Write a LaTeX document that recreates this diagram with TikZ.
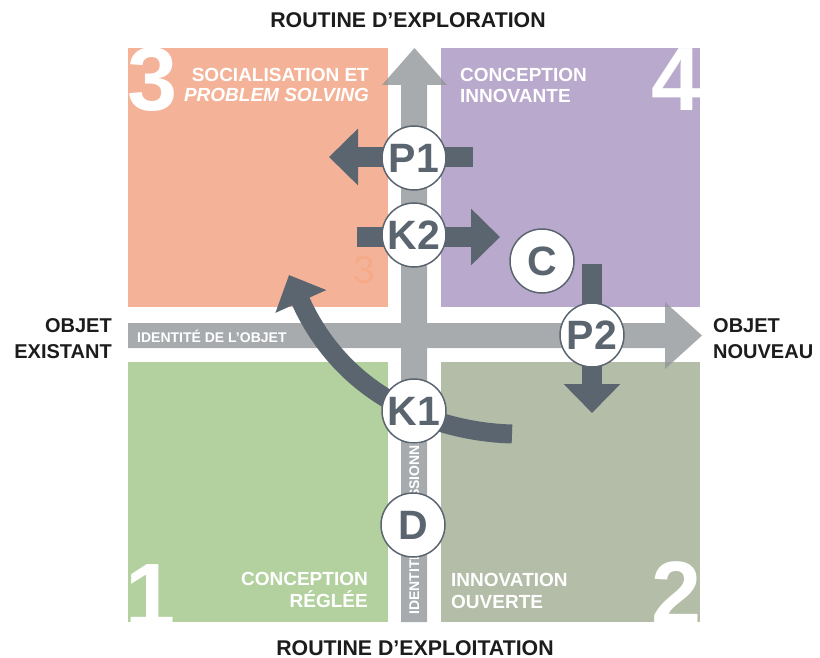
\documentclass[tikz,border=0pt]{standalone}
\usepackage{fontspec}
\setmainfont{Liberation Sans}
\usetikzlibrary{arrows.meta}
\definecolor{qthree}{HTML}{F4B398}
\definecolor{qfour}{HTML}{B9A9CD}
\definecolor{qone}{HTML}{B3D19E}
\definecolor{qtwo}{HTML}{B4BDA8}
\definecolor{axisgrey}{HTML}{8F9497}
\definecolor{slate}{HTML}{5A6570}
\definecolor{ink}{HTML}{1C1C1C}
\definecolor{faint}{HTML}{F6AA87}
\begin{document}
\begin{tikzpicture}[x=1pt,y=-1pt,
  lbl/.style={font=\fontsize{19}{20}\selectfont\bfseries, text=white, inner sep=0},
  lblit/.style={font=\fontsize{19}{20}\selectfont\bfseries\itshape, text=white, inner sep=0},
  axislbl/.style={font=\fontsize{20}{24}\selectfont\bfseries, text=ink, inner sep=0},
  toplbl/.style={font=\fontsize{21.3}{24}\selectfont\bfseries, text=ink, inner sep=0},
  barlbl/.style={font=\fontsize{14}{16}\selectfont\bfseries, text=white, inner sep=0},
  bignum/.style={font=\fontsize{90}{90}\selectfont\bfseries, text=white, inner sep=0},
  stage/.style={circle, draw=slate, line width=1.5pt, fill=white, minimum size=64pt,
    inner sep=0, font=\fontsize{41}{42}\selectfont\bfseries, text=slate},
  flow/.style={draw=slate, line width=20pt, -{Triangle[width=55pt,length=29pt]}}
]
\useasboundingbox (0,0) rectangle (820,658);

% quadrants with clipped big numbers
\begin{scope}
  \clip (128,48) rectangle (388,307);
  \fill[qthree] (128,48) rectangle (388,307);
  \node[bignum, anchor=base west] (n3) at (127,111) {3};
  \node[font=\fontsize{39}{40}\selectfont, text=faint, inner sep=0, anchor=base west] (s3) at (353,283) {3};
\end{scope}
\begin{scope}
  \clip (441,48) rectangle (700,307);
  \fill[qfour] (441,48) rectangle (700,307);
  \node[bignum, anchor=base east] (n4) at (702,111) {4};
\end{scope}
\begin{scope}
  \clip (128,362) rectangle (388,622);
  \fill[qone] (128,362) rectangle (388,622);
  \node[bignum, anchor=base west] (n1) at (125,626) {1};
\end{scope}
\begin{scope}
  \clip (441,362) rectangle (700,622);
  \fill[qtwo] (441,362) rectangle (700,622);
  \node[bignum, anchor=base east] (n2) at (702,624) {2};
\end{scope}

% grey axis arrows (one path, painted once)
\fill[axisgrey, fill opacity=0.78]
  (401,622) -- (401,85) -- (382,85) -- (414.5,48) -- (447,85) -- (427,85) -- (427,622) -- cycle
  (128,323) -- (665,323) -- (665,302) -- (702,335.5) -- (665,369) -- (665,348) -- (128,348) -- cycle;

\node[barlbl, anchor=base west] (idobj) at (137,342) {IDENTITÉ DE L’OBJET};
\node[barlbl, anchor=base west, rotate=90] (idpro) at (419,615) {IDENTITÉ PROFESSIONNELLE};

% quadrant labels
\node[lbl, anchor=base east] (l3a) at (369,82) {SOCIALISATION ET};
\node[lblit, anchor=base east] (l3b) at (369,102) {PROBLEM SOLVING};
\node[lbl, anchor=base west] (l4a) at (460,82) {CONCEPTION};
\node[lbl, anchor=base west] (l4b) at (460,103) {INNOVANTE};
\node[lbl, anchor=base east] (l1a) at (368,585) {CONCEPTION};
\node[lbl, anchor=base east] (l1b) at (368,607) {RÉGLÉE};
\node[lbl, anchor=base west] (l2a) at (451,586) {INNOVATION};
\node[lbl, anchor=base west] (l2b) at (451,608) {OUVERTE};

% axis labels
\node[toplbl, anchor=base] (top) at (408,28) {ROUTINE D’EXPLORATION};
\node[toplbl, anchor=base] (bot) at (415,655) {ROUTINE D’EXPLOITATION};
\node[axislbl, anchor=base east] (oe1) at (112,332) {OBJET};
\node[axislbl, anchor=base east] (oe2) at (112,358) {EXISTANT};
\node[axislbl, anchor=base west] (on1) at (713,332) {OBJET};
\node[axislbl, anchor=base west] (on2) at (713,358) {NOUVEAU};

% flow arrows
\coordinate (p1s) at (473,157);
\coordinate (p1t) at (329,157);
\coordinate (k2s) at (357,237);
\coordinate (k2t) at (500,237);
\coordinate (cs) at (592,264);
\coordinate (ct) at (592,413);
\coordinate (k1s) at (512,434);
\coordinate (k1t) at (289,275);
\draw[flow] (p1s) -- (p1t);
\draw[flow] (k2s) -- (k2t);
\draw[flow] (cs) -- (ct);
\draw[flow, line width=19pt, -{Triangle[width=54pt,length=29pt]}]
  (k1s) .. controls (440,432) and (345,400) .. (k1t);

% stage circles
\node[stage] (P1) at (414,158) {P1};
\node[stage] (K2) at (414,235) {K2};
\node[stage] (C) at (542,261) {C};
\node[stage] (P2) at (592,335) {P2};
\node[stage] (K1) at (414,411) {K1};
\node[stage] (D) at (413,525) {D};
\end{tikzpicture}
\end{document}
